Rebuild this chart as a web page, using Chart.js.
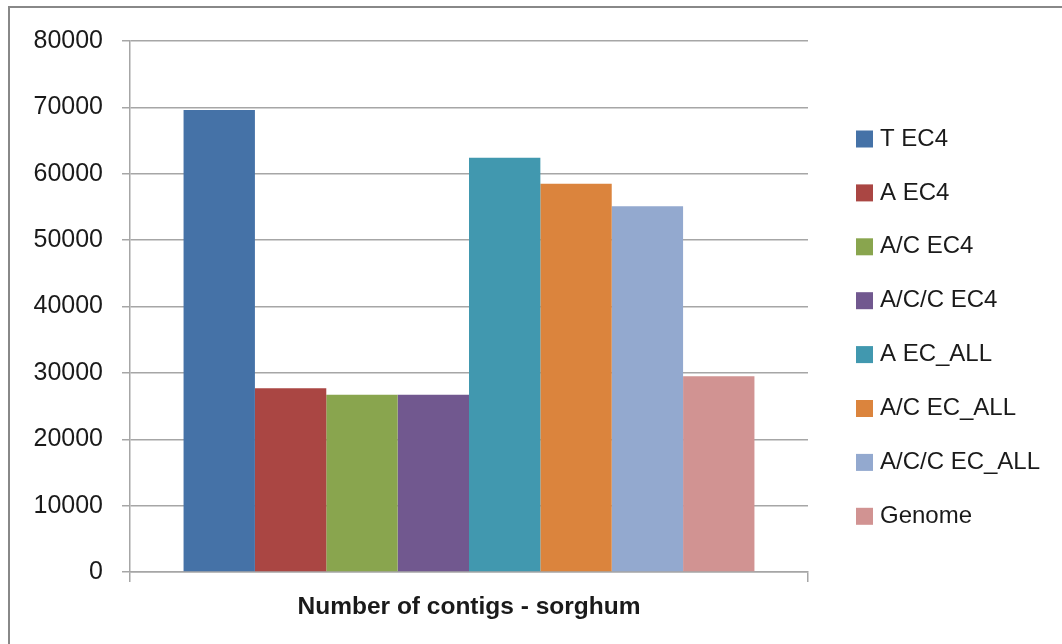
<!DOCTYPE html>
<html>
<head>
<meta charset="utf-8">
<script src="https://cdn.jsdelivr.net/npm/chart.js@4"></script>
<style>
    html, body { margin: 0; padding: 0; background: #fff; }
    .wrap { position: relative; width: 1062px; height: 644px; overflow: hidden; }
    .frame { position: absolute; left: 8px; top: 6px; width: 1100px; height: 700px;
             border-top: 2px solid #888; border-left: 2px solid #888; }
    canvas { position: absolute; left: 0; top: 0; }
</style>
</head>
<body>
<div class="wrap">
    <div class="frame"></div>
    <canvas id="contigChart" width="1062" height="644"></canvas>
</div>
<script>
// data
const categories = ["Number of contigs - sorghum"];
const seriesNames = ["T EC4", "A EC4", "A/C EC4", "A/C/C EC4", "A EC_ALL", "A/C EC_ALL", "A/C/C EC_ALL", "Genome"];
const seriesValues = [69600, 27700, 26700, 26700, 62400, 58500, 55100, 29500];
const seriesColors = ["#4572A7", "#AA4643", "#89A54E", "#71588F", "#4198AF", "#DB843D", "#93A9CF", "#D19392"];
const yTicks = [0, 10000, 20000, 30000, 40000, 50000, 60000, 70000, 80000];

const font = "'Liberation Sans', Arial, sans-serif";
const gridColor = "#a6a6a6";

// legend drawn on the right, one row per dataset
const sideLegend = {
    id: "sideLegend",
    afterDraw(chart) {
        const ctx = chart.ctx;
        ctx.save();
        ctx.font = "24px " + font;
        ctx.textBaseline = "middle";
        chart.data.datasets.forEach(function (ds, i) {
            const y = 139 + i * 53.9;
            ctx.fillStyle = ds.backgroundColor;
            ctx.fillRect(856, y - 8.5, 17, 17);
            ctx.fillStyle = "#1a1a1a";
            ctx.fillText(ds.label, 880, y);
        });
        ctx.restore();
    }
};

const ctx = document.getElementById("contigChart").getContext("2d");
new Chart(ctx, {
    type: "bar",
    data: {
        labels: categories,
        datasets: seriesNames.map(function (name, i) {
            return {
                label: name,
                data: [seriesValues[i]],
                backgroundColor: seriesColors[i],
                borderWidth: 0
            };
        })
    },
    options: {
        responsive: false,
        animation: false,
        layout: { padding: { top: 41, right: 254, left: 0, bottom: 0 } },
        datasets: { bar: { categoryPercentage: 0.842, barPercentage: 1 } },
        plugins: {
            legend: { display: false },
            tooltip: { enabled: false }
        },
        scales: {
            y: {
                min: 0,
                max: 80000,
                afterBuildTicks(scale) {
                    scale.ticks = yTicks.map(function (v) { return { value: v }; });
                },
                afterFit(scale) { scale.width = 130; },
                ticks: {
                    padding: 19,
                    color: "#1a1a1a",
                    font: { family: font, size: 25 },
                    callback: function (value) { return String(value); }
                },
                grid: { color: gridColor, lineWidth: 1.5, tickLength: 8 },
                border: { color: gridColor, width: 1.5 }
            },
            x: {
                afterFit(scale) { scale.height = 72; },
                ticks: {
                    padding: 11,
                    color: "#1a1a1a",
                    font: { family: font, size: 24.5, weight: "bold" }
                },
                grid: { offset: true, drawOnChartArea: false, color: gridColor, lineWidth: 1.5, tickLength: 10 },
                border: { color: gridColor, width: 1.5 }
            }
        }
    },
    plugins: [sideLegend]
});
</script>
</body>
</html>
